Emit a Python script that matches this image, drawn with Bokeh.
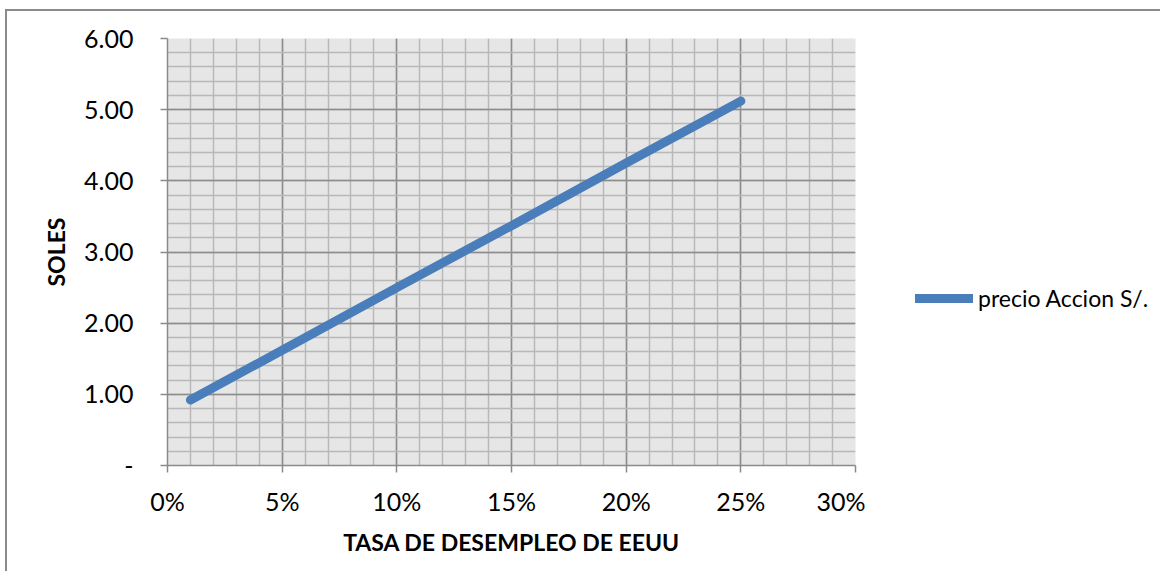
from bokeh.plotting import figure
from bokeh.layouts import row
from bokeh.models import (FixedTicker, NumeralTickFormatter, Legend, LegendItem, Range1d)
from bokeh.embed import file_html
from bokeh.resources import INLINE

# data
tasa = [0.01, 0.05, 0.10, 0.15, 0.20, 0.25]
precio = [0.92, 1.62, 2.50, 3.37, 4.25, 5.12]
serie = "precio Accion S/."
x_ticks = [0, 0.05, 0.10, 0.15, 0.20, 0.25, 0.30]
x_minor = [i / 100 for i in range(0, 31)]
y_ticks = [0, 1, 2, 3, 4, 5, 6]
y_minor = [i / 5 for i in range(0, 31)]

FONT = "Lato"
LINE_COLOR = "#4a7ebb"
H = 560

p = figure(width=858, height=H, output_backend="svg", toolbar_location=None,
           x_range=Range1d(0, 0.30), y_range=Range1d(0, 6),
           min_border_left=160, min_border_right=10, min_border_top=27, min_border_bottom=H - 27 - 427)
p.background_fill_color = "#e6e6e6"
p.border_fill_color = "white"
p.outline_line_color = None

xt = FixedTicker(ticks=x_ticks, minor_ticks=x_minor)
yt = FixedTicker(ticks=y_ticks, minor_ticks=y_minor)
p.xaxis.ticker = xt
p.yaxis.ticker = yt
p.xgrid.ticker = xt
p.ygrid.ticker = yt

for g in (p.xgrid, p.ygrid):
    g.grid_line_color = "#8c8c8c"
    g.grid_line_width = 1.5
    g.minor_grid_line_color = "#b8b8b8"
    g.minor_grid_line_width = 1.5

p.xaxis.formatter = NumeralTickFormatter(format="0%")
p.yaxis.formatter = NumeralTickFormatter(format="0.00")
p.yaxis.major_label_overrides = {0: "-"}

for ax in (p.xaxis, p.yaxis):
    ax.axis_line_color = "#8a8a8a"
    ax.axis_line_width = 1.5
    ax.major_tick_line_color = "#8a8a8a"
    ax.major_tick_line_width = 1.5
    ax.major_tick_out = 7
    ax.major_tick_in = 0
    ax.minor_tick_out = 0
    ax.minor_tick_in = 0
    ax.major_label_text_font = FONT
    ax.major_label_text_font_size = "25px"
    ax.major_label_text_color = "black"
    ax.axis_label_text_font = FONT
    ax.axis_label_text_font_size = "23px"
    ax.axis_label_text_font_style = "bold"
    ax.axis_label_text_color = "black"

p.xaxis.axis_label = "TASA DE DESEMPLEO DE EEUU"
p.yaxis.axis_label = "SOLES"
p.xaxis.major_label_standoff = 13
p.yaxis.major_label_standoff = 27
p.xaxis.axis_label_standoff = 9
p.yaxis.axis_label_standoff = 11

p.line(tasa, precio, line_color=LINE_COLOR, line_width=9, line_cap="round", line_join="round")

# legend panel on the right: same series drawn off-screen, used only for the legend glyph
p2 = figure(width=295, height=H, output_backend="svg", toolbar_location=None,
            x_range=Range1d(10, 11), y_range=Range1d(10, 11),
            min_border_left=0, min_border_right=0, min_border_top=0, min_border_bottom=0)
p2.axis.visible = False
p2.grid.visible = False
p2.outline_line_color = None
p2.background_fill_color = "white"
p2.border_fill_color = "white"
proxy = p2.line(tasa, precio, line_color=LINE_COLOR, line_width=9, line_cap="round")

legend = Legend(items=[LegendItem(label=serie, renderers=[proxy])], location=(50, 153),
                padding=0, margin=0, border_line_color=None, background_fill_alpha=0,
                glyph_width=58, glyph_height=24, label_height=24, label_standoff=5,
                label_text_font=FONT, label_text_font_size="23px", label_text_color="black")
p2.add_layout(legend, "center")

layout = row(p, p2)
layout.styles = {"border-top": "2px solid #8a8a8a", "border-left": "2px solid #8a8a8a",
                 "margin-left": "5px", "margin-top": "9px"}

open("out.html", "w").write(file_html(layout, INLINE))
